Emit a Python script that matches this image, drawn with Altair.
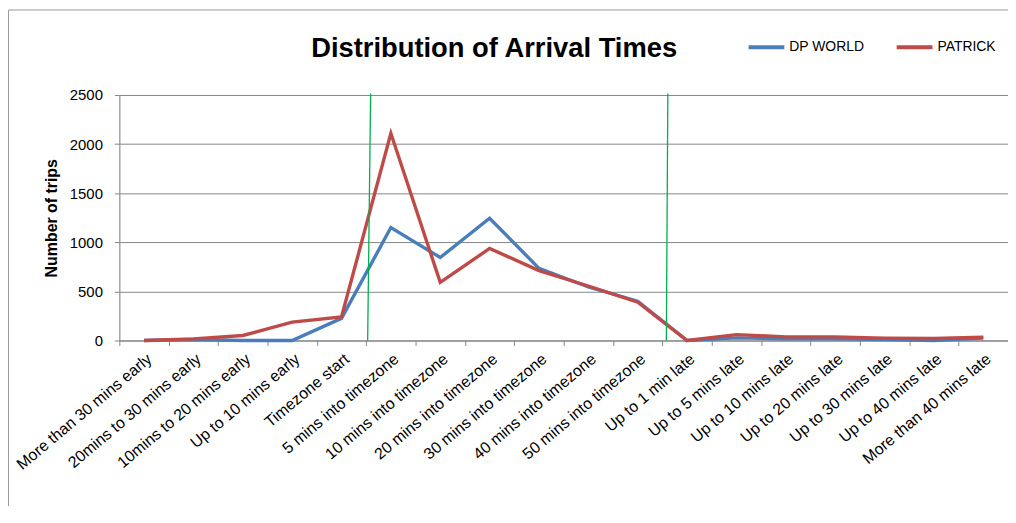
import altair as alt
import pandas as pd

chart_title = "Distribution of Arrival Times"
categories = [
    "More than 30 mins early", "20mins to 30 mins early", "10mins to 20 mins early",
    "Up to 10 mins early", "Timezone start", "5 mins into timezone",
    "10 mins into timezone", "20 mins into timezone", "30 mins into timezone",
    "40 mins into timezone", "50 mins into timezone", "Up to 1 min late",
    "Up to 5 mins late", "Up to 10 mins late", "Up to 20 mins late",
    "Up to 30 mins late", "Up to 40 mins late", "More than 40 mins late",
]
dp_world = [0, 10, 0, 0, 225, 1150, 845, 1245, 735, 545, 400, 0, 27, 17, 17, 10, 0, 25]
patrick = [0, 17, 51, 187, 240, 2110, 592, 937, 712, 555, 390, 0, 60, 37, 37, 23, 20, 33]
series_names = ["DP WORLD", "PATRICK"]
series_colors = ["#4A7EBB", "#BE4B48"]
y_ticks = [0, 500, 1000, 1500, 2000, 2500]

# green marker lines (in category units from the left edge of the plot)
marker_bottom = [5.03, 11.08]
marker_top = [5.09, 11.11]

W, H = 894, 247
FONT = "Liberation Sans"
GRAY = "#868686"

rows = []
for c, a, b in zip(categories, dp_world, patrick):
    rows.append({"cat": c, "series": "DP WORLD", "value": a})
    rows.append({"cat": c, "series": "PATRICK", "value": b})
df = pd.DataFrame(rows)

markers = pd.DataFrame({"xb": marker_bottom, "xt": marker_top})

border = alt.Chart(pd.DataFrame({"a": [0]})).mark_rect(
    fillOpacity=0, stroke="#9a9a9a", strokeWidth=1
).encode(
    x=alt.value(-111.5), x2=alt.value(W + 40),
    y=alt.value(-85.5), y2=alt.value(H + 250),
)

title = alt.Chart(pd.DataFrame({"t": [chart_title]})).mark_text(
    font=FONT, fontSize=27.5, fontWeight="bold", color="#000000",
    align="left", baseline="alphabetic",
).encode(
    text="t:N", x=alt.value(193), y=alt.value(-38),
)

lines = alt.Chart(df).mark_line(strokeWidth=3.4).encode(
    x=alt.X(
        "cat:N", sort=categories, bandPosition=0.5,
        scale=alt.Scale(type="band", paddingInner=0, paddingOuter=0),
        axis=alt.Axis(
            title=None, tickBand="extent", labelAngle=-40, labelAlign="right",
            labelBaseline="top", labelFont=FONT, labelFontSize=16, labelColor="#000000",
            labelPadding=5, labelLimit=400, labelOverlap=False,
            tickColor=GRAY, tickSize=5, domainColor=GRAY, grid=False,
        ),
    ),
    y=alt.Y(
        "value:Q",
        scale=alt.Scale(domain=[0, 2500], nice=False),
        axis=alt.Axis(
            values=y_ticks, format="d", title="Number of trips", titleFont=FONT,
            titleFontSize=16, titleFontWeight="bold", titleColor="#000000", titlePadding=10,
            labelFont=FONT, labelFontSize=15, labelColor="#000000", labelPadding=12,
            tickColor=GRAY, tickSize=5, domainColor=GRAY, gridColor=GRAY, gridWidth=1,
        ),
    ),
    color=alt.Color(
        "series:N",
        scale=alt.Scale(domain=series_names, range=series_colors),
        legend=alt.Legend(
            orient="none", legendX=631, legendY=-68, direction="horizontal", title=None,
            symbolType="stroke", symbolSize=1296, symbolStrokeWidth=4,
            labelFont=FONT, labelFontSize=14, labelColor="#000000", labelOffset=3,
            columnPadding=24,
        ),
    ),
)

green = alt.Chart(markers).mark_rule(color="#00B050", strokeWidth=1.3).encode(
    x=alt.X("xb:Q", scale=alt.Scale(domain=[0, 18]), axis=None),
    x2="xt:Q",
    y=alt.value(H),
    y2=alt.value(-1.5),
)

chart = alt.layer(border, title, lines, green).resolve_scale(x="independent").properties(
    width=W,
    height=H,
    autosize=alt.AutoSizeParams(type="none"),
    padding={"left": 112, "top": 86, "right": 0, "bottom": 165},
).configure_view(stroke=None).configure(background="#ffffff")

chart.save("out.html", embed_options={"renderer": "svg", "actions": False})
